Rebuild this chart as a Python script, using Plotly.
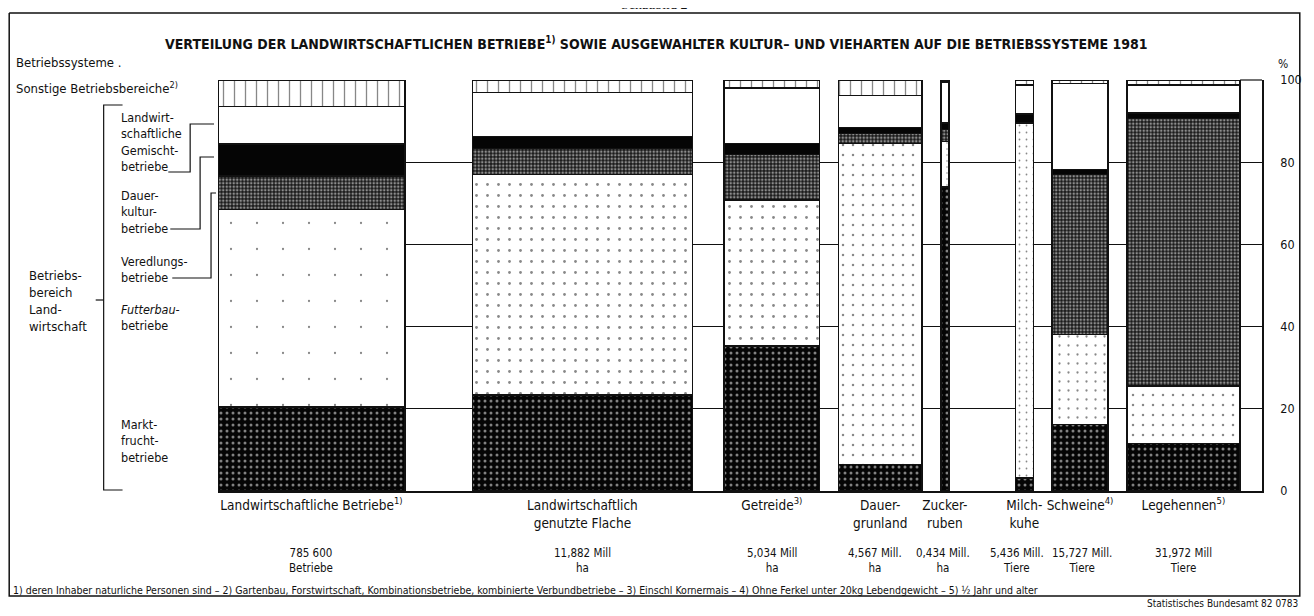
import plotly.graph_objects as go

# ---------------------------------------------------------------------------
# Data (percent shares of each Betriebssystem, bottom to top)
# ---------------------------------------------------------------------------

categories = [
    "Landwirtschaftliche Betriebe<sup>1)</sup>",
    "Landwirtschaftlich<br>genutzte Flache",
    "Getreide<sup>3)</sup>",
    "Dauer-<br>grunland",
    "Zucker-<br>ruben",
    "Milch-<br>kuhe",
    "Schweine<sup>4)</sup>",
    "Legehennen<sup>5)</sup>",
]
totals = [
    "785 600<br>Betriebe",
    "11,882 Mill<br>ha",
    "5,034 Mill<br>ha",
    "4,567 Mill.<br>ha",
    "0,434 Mill.<br>ha",
    "5,436 Mill.<br>Tiere",
    "15,727 Mill.<br>Tiere",
    "31,972 Mill<br>Tiere",
]
marktfrucht = [20.5, 23.4, 35.3, 6.5, 74.0, 3.2, 16.2, 11.6]
futterbau = [48.0, 53.6, 35.5, 78.0, 11.0, 86.3, 21.9, 14.0]
veredlung = [8.1, 6.3, 11.1, 2.5, 3.0, 0.0, 38.9, 65.0]
dauerkultur = [7.8, 2.9, 2.6, 1.5, 1.5, 2.2, 1.2, 1.4]
gemischt = [9.1, 10.8, 13.6, 7.7, 10.0, 7.1, 21.0, 6.8]
sonstige = [6.5, 3.0, 1.9, 3.8, 0.5, 1.2, 0.8, 1.2]

# ---------------------------------------------------------------------------
# Layout geometry. Coordinates below are screen pixels; the page body has an
# 8px margin, so the figure itself is shifted by that amount.
# ---------------------------------------------------------------------------

OFF = 8
W, H = 1314 - OFF, 616 - OFF
PL, PR, PT, PB = 218, 1268, 80, 491          # plot area (screen px)
bar_left = [218, 474, 727, 842, 945, 1020, 1057, 1132]
bar_width = [188, 221, 96, 84, 8, 18, 56, 114]
centers = [l + w / 2 for l, w in zip(bar_left, bar_width)]
total_shift = [0, 0, 0, -5, -2, -7, 2, 0]    # nudges so the value labels don't touch

FONT = "Liberation Sans Narrow, DejaVu Sans Condensed, Arial Narrow, sans-serif"
INK = "#111111"


def px(x):
    return (x - PL) / (PR - PL)


def py(y):
    return (PB - y) / (PB - PT)


fig = go.Figure()


def add_segment(name, values, color, pattern=None):
    fig.add_trace(go.Bar(
        name=name,
        x=centers,
        y=values,
        width=bar_width,
        marker=dict(color=color, line=dict(color=INK, width=1.5), pattern=pattern),
        hoverinfo="skip",
        showlegend=False,
    ))


add_segment("Marktfruchtbetriebe", marktfrucht, "#050505",
            dict(shape=".", fgcolor="white", fillmode="overlay", size=6, solidity=0.2))
add_segment("Futterbaubetriebe", futterbau, "white",
            dict(shape=".", fgcolor=INK, fillmode="overlay",
                 size=[26, 11, 11, 10, 6, 7, 9, 10],
                 solidity=[0.006, 0.05, 0.05, 0.05, 0.05, 0.05, 0.05, 0.05]))
add_segment("Veredlungsbetriebe", veredlung, "#1a1a1a",
            dict(shape=".", fgcolor="white", fillmode="overlay", size=3.5, solidity=0.42))
add_segment("Dauerkulturbetriebe", dauerkultur, "#050505")
add_segment("Landwirtschaftliche Gemischtbetriebe", gemischt, "white")
add_segment("Sonstige Betriebsbereiche", sonstige, "white",
            dict(shape="|", fgcolor=INK, fillmode="overlay", size=11, solidity=0.12))

ann = []

# value labels under the category names
for c, t, s in zip(centers, totals, total_shift):
    ann.append(dict(x=c, xref="x", y=py(560), yref="paper", text=t, xshift=s,
                    showarrow=False, xanchor="center", yanchor="middle",
                    font=dict(size=11.5, color=INK)))


def label(x, y, text, size=12.5, xanchor="left", **kw):
    ann.append(dict(x=px(x), y=py(y), xref="paper", yref="paper", text=text,
                    showarrow=False, xanchor=xanchor, yanchor="middle",
                    align="left", font=dict(size=size, color=INK, **kw)))


label(657, 5, "Schaubild 2", size=14, xanchor="center", family="Liberation Serif, serif")
label(659, 43, "<b>VERTEILUNG DER LANDWIRTSCHAFTLICHEN BETRIEBE<sup>1)</sup> SOWIE AUSGEWAHLTER "
               "KULTUR– UND VIEHARTEN AUF DIE BETRIEBSSYSTEME 1981</b>",
      size=14, xanchor="center")
label(13, 62, "Betriebssysteme .", size=13)
label(13, 88, "Sonstige Betriebsbereiche<sup>2)</sup>", size=13)
label(118, 142, "Landwirt-<br>schaftliche<br>Gemischt-<br>betriebe")
label(118, 212, "Dauer-<br>kultur-<br>betriebe")
label(118, 269, "Veredlungs-<br>betriebe")
label(118, 317, "<i>Futterbau-</i><br>betriebe")
label(118, 441, "Markt-<br>frucht-<br>betriebe")
label(26, 301, "Betriebs-<br>bereich<br>Land-<br>wirtschaft", size=13)
label(1289, 64, "%", size=12, xanchor="center")
label(10, 590, "1) deren Inhaber naturliche Personen sind – 2) Gartenbau, Forstwirtschaft, "
               "Kombinationsbetriebe, kombinierte Verbundbetriebe – 3) Einschl Kornermais – "
               "4) Ohne Ferkel unter 20kg Lebendgewicht – 5) ½ Jahr und alter", size=10.5)
label(1306, 603, "Statistisches Bundesamt 82 0783", size=10, xanchor="right")

shapes = []


def line(points, width=1.2):
    path = "M " + " L ".join(f"{px(x):.5f},{py(y):.5f}" for x, y in points)
    shapes.append(dict(type="path", path=path, xref="paper", yref="paper",
                       line=dict(color=INK, width=width)))


# frame
line([(8, 13), (1306, 13), (1306, 596), (8, 596), (8, 13)], width=1.5)
# bracket "Betriebsbereich Landwirtschaft"
line([(122, 105), (103, 105), (103, 490), (122, 490)])
line([(95, 300), (103, 300)])
# leaders to the first bar
line([(168, 172), (190, 172), (190, 124), (214, 124)])
line([(170, 229), (200, 229), (200, 157), (214, 157)])
line([(172, 278), (211, 278), (211, 193), (216, 193)])
# small top closure on the right edge
line([(1246, 80), (1268, 80)])

fig.update_layout(
    width=W, height=H,
    margin=dict(l=PL - OFF, r=W - (PR - OFF), t=PT - OFF, b=H - (PB - OFF), pad=0),
    paper_bgcolor="white", plot_bgcolor="white",
    barmode="stack",
    font=dict(family=FONT, color=INK, size=13),
    annotations=ann,
    shapes=shapes,
    xaxis=dict(
        range=[PL, PR], tickvals=centers, ticktext=categories,
        showgrid=False, zeroline=False, showline=True, linecolor=INK, linewidth=1.5,
        ticks="", tickfont=dict(size=13.5, color=INK), ticklabelstandoff=1,
    ),
    yaxis=dict(
        range=[0, 100], side="right", tickvals=[0, 20, 40, 60, 80, 100],
        showgrid=False, zeroline=False, showline=True, linecolor=INK, linewidth=1.5,
        ticks="", tickfont=dict(size=12.5, color=INK), ticklabelstandoff=14,
        minor=dict(tickvals=[20, 40, 60, 80], showgrid=True, gridcolor=INK, gridwidth=1),
    ),
)

fig.write_html("out.html")
